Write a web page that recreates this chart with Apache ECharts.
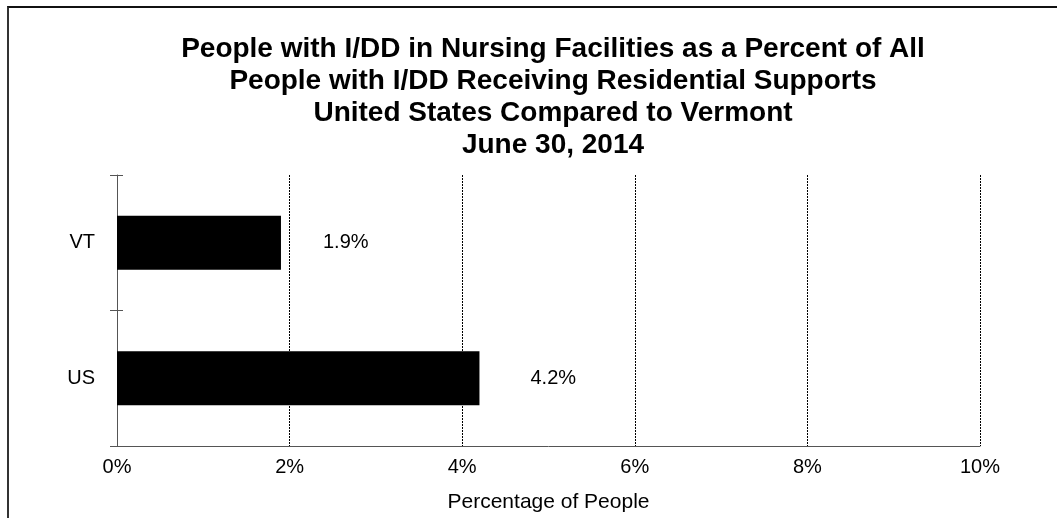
<!DOCTYPE html>
<html>
<head>
<meta charset="utf-8">
<script src="https://cdn.jsdelivr.net/npm/echarts@6/dist/echarts.min.js"></script>
<style>
html,body{margin:0;padding:0;background:#fff;}
#frame{position:absolute;left:7px;top:6px;width:1050px;height:512px;border-left:2px solid #333;border-top:2px solid #111;box-sizing:border-box;}
#chart{position:absolute;left:0;top:0;width:1057px;height:518px;}
</style>
</head>
<body>
<div id="frame"></div>
<div id="chart"></div>
<script>
const titleLines = [
  "People with I/DD in Nursing Facilities as a Percent of All",
  "People with I/DD Receiving Residential Supports",
  "United States Compared to Vermont",
  "June 30, 2014"
];
const categories = ["US", "VT"];
const values = [4.2, 1.9];
const labelDistances = [51, 42];
const xTicks = [0, 2, 4, 6, 8, 10];
const xAxisName = "Percentage of People";

const font = "Liberation Sans, Arial, sans-serif";
const chart = echarts.init(document.getElementById('chart'), null, {renderer: 'canvas'});
chart.setOption({
  animation: false,
  backgroundColor: 'transparent',
  title: {
    text: titleLines.join('\n'),
    left: 548, top: 28, textAlign: 'center',
    textStyle: {fontFamily: font, fontSize: 28, fontWeight: 'bold', color: '#000', lineHeight: 32}
  },
  grid: {left: 117, right: 77, top: 175, bottom: 70, containLabel: false},
  xAxis: {
    type: 'value', min: xTicks[0], max: xTicks[xTicks.length - 1], interval: 2,
    name: xAxisName, nameLocation: 'middle', nameGap: 46,
    nameTextStyle: {fontFamily: font, fontSize: 21, color: '#000'},
    axisLine: {show: true, lineStyle: {color: '#555', width: 1}},
    axisTick: {show: false},
    axisLabel: {fontFamily: font, fontSize: 20, color: '#000', margin: 11, formatter: v => v + '%'},
    splitLine: {show: true, lineStyle: {color: '#000', type: [2, 1], width: 1}}
  },
  yAxis: [{
    type: 'category', data: categories,
    axisLine: {show: true, lineStyle: {color: '#555', width: 1}},
    axisTick: {show: true, length: 7, lineStyle: {color: '#555'}},
    axisLabel: {fontFamily: font, fontSize: 20, color: '#000', margin: 22},
    splitLine: {show: false}
  }, {
    type: 'category', data: categories, position: 'left', offset: 0,
    axisLine: {show: false},
    axisTick: {show: true, inside: true, length: 6, lineStyle: {color: '#555'}},
    axisLabel: {show: false}
  }],
  series: [{
    type: 'bar', yAxisIndex: 0,
    data: values.map((v, i) => ({
      value: v,
      label: {show: true, position: 'right', distance: labelDistances[i],
        fontFamily: font, fontSize: 20, color: '#000', formatter: p => p.value.toFixed(1) + '%'}
    })),
    barWidth: 54,
    itemStyle: {color: '#000'}
  }]
});
</script>
</body>
</html>
